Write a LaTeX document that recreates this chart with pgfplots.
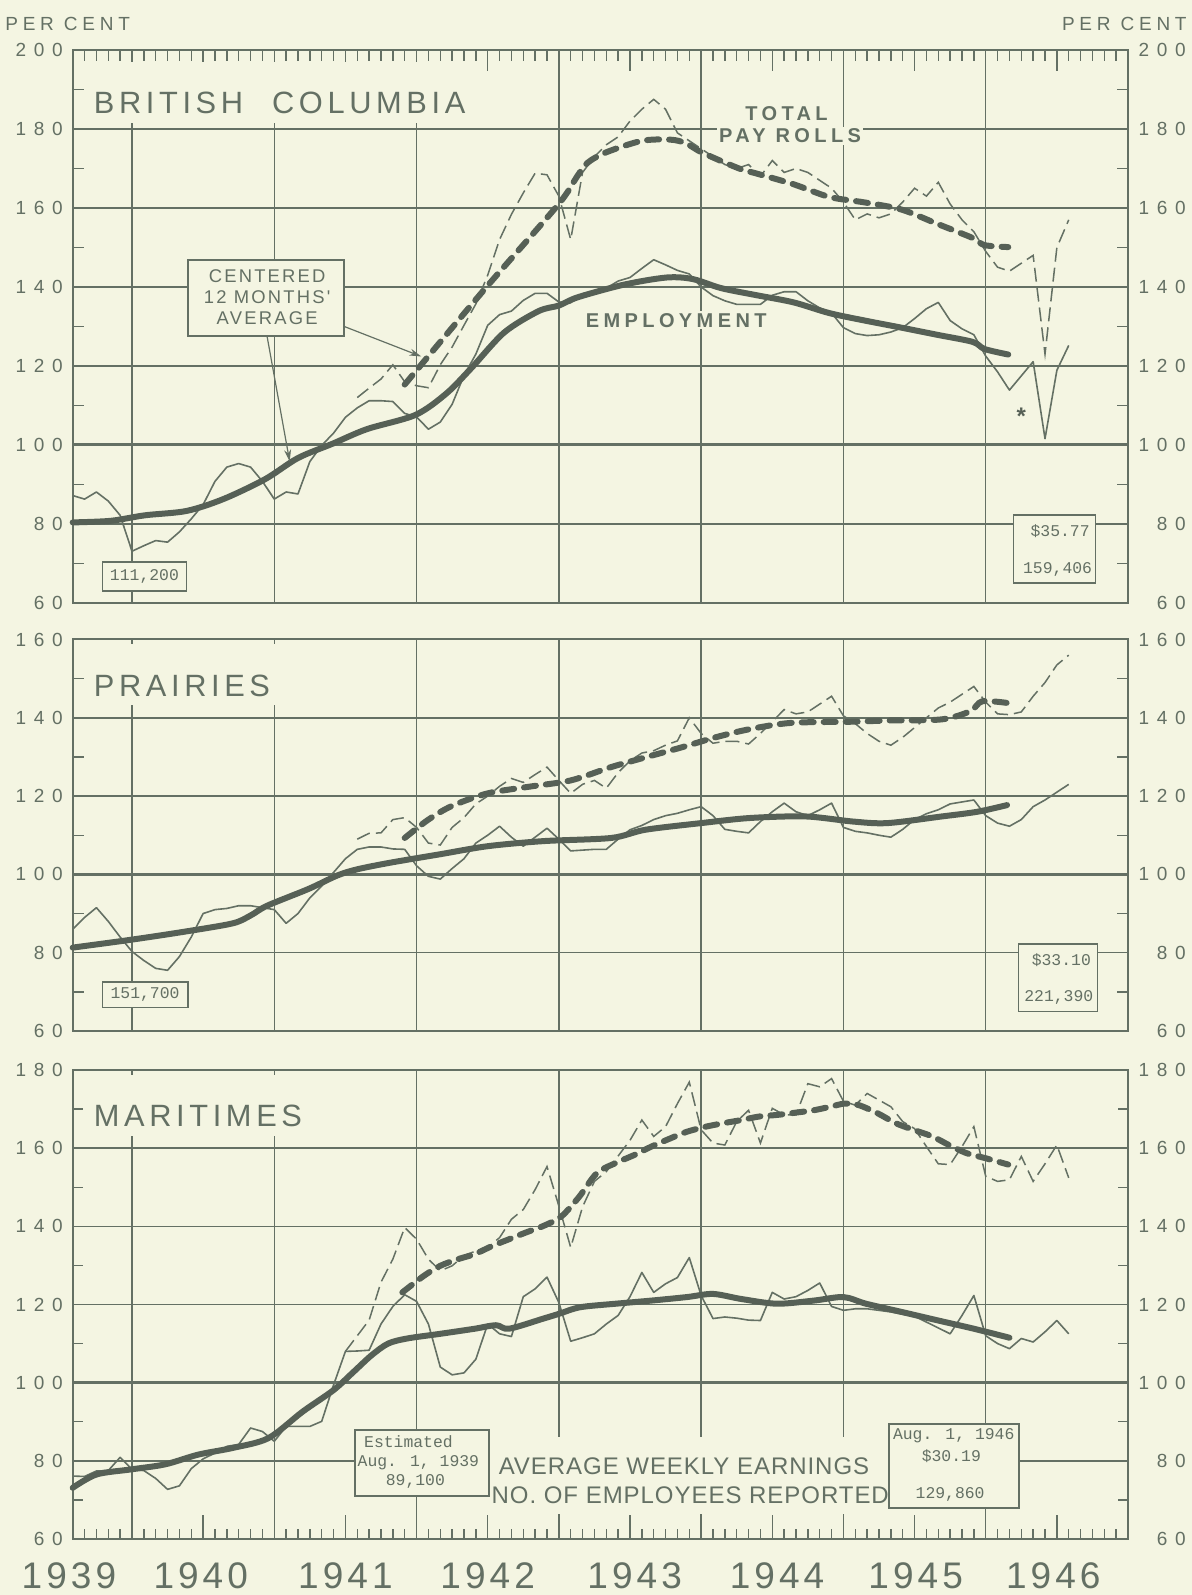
\documentclass[border=0pt]{standalone}
\usepackage{fontspec}
\setmainfont{Liberation Sans}
\newfontfamily\tickfont[LetterSpace=40]{Liberation Sans}
\newfontfamily\pcfont[LetterSpace=25]{Liberation Sans}
\newfontfamily\titlefont[LetterSpace=15]{Liberation Sans}
\newfontfamily\boldlab[LetterSpace=22]{Liberation Sans}
\newfontfamily\cenfont[LetterSpace=12]{Liberation Sans}
\newfontfamily\avgfont[LetterSpace=4]{Liberation Sans}
\newfontfamily\yearfont[LetterSpace=11]{Liberation Sans}
\newfontfamily\typefont{Liberation Mono}
\usepackage{pgfplots}
\pgfplotsset{compat=1.18}
\usetikzlibrary{arrows.meta}

\definecolor{bg}{RGB}{244,245,226}
\definecolor{ink}{RGB}{100,112,100}
\definecolor{dk}{RGB}{86,96,86}

\newcommand\tickfnt{\tickfont\fontsize{9.5}{11}\selectfont}
\newcommand\titlefnt{\titlefont\fontsize{15.4}{18}\selectfont}
\newcommand\typefnt{\typefont\fontsize{8.2}{9.8}\selectfont}

\pgfplotsset{
  panel/.style={
    scale only axis, width=527.65pt, xmin=0, xmax=89, clip=false,
    axis line style={ink, line width=1pt},
    grid style={ink, line width=0.75pt},
    xmajorgrids, ymajorgrids,
    xtick={5,17,29,41,53,65,77}, xticklabels={},
    major tick length=0pt, minor tick length=5.5pt,
    tick align=inside,
    tick style={ink, line width=0.7pt},
    ytick pos=both,
    yticklabel style={font=\tickfnt, text=ink, anchor=east, inner sep=0pt, xshift=-4.85pt},
    /pgf/number format/assume math mode=true,
    extra y ticks={100}, extra y tick labels={},
    extra y tick style={grid style={ink, line width=1.5pt}},
  },
  thinl/.style={ink, line width=0.8pt, no marks, line join=round},
  thickl/.style={dk, line width=3pt, no marks, smooth, line join=round, line cap=round},
  thind/.style={ink, line width=0.75pt, no marks, dash pattern=on 7pt off 3pt},
  thickd/.style={dk, line width=3pt, no marks, smooth, dash pattern=on 6pt off 5pt, line cap=round},
}
\tikzset{
  rlab/.style={anchor=east, font=\tickfnt, text=ink, inner sep=0pt, xshift=29pt},
  ttl/.style={anchor=base west, fill=bg, inner xsep=3pt, inner ysep=4.5pt, text height=21.5pt, text depth=0pt, text=ink, font=\titlefnt},
  bx/.style={draw=ink, fill=bg, line width=0.8pt, inner sep=0pt},
  tt/.style={font=\typefnt, text=ink, inner sep=0pt},
  blab/.style={font=\boldlab\fontsize{10}{12}\selectfont\bfseries, text=ink, fill=bg, inner sep=1pt},
}

\begin{document}
\begin{tikzpicture}[x=1pt,y=1pt]
\fill[bg] (0,0) rectangle (596,797.5);
\useasboundingbox (0,0) rectangle (596,797.5);

% ================= BRITISH COLUMBIA =================
\begin{axis}[panel, at={(36.35pt,496pt)}, anchor=south west, height=276.5pt,
  ymin=60, ymax=200, ytick={60,80,...,200}, minor ytick={70,90,...,190},
  minor xtick={1,...,88}, xtick pos=right,
  extra x ticks={11,23,35,47,59,71,83}, extra x tick labels={},
  extra x tick style={xmajorgrids=false, major tick length=10.5pt}]
\node[ttl] at (axis cs:1.25,183.8) {BRITISH\hspace{14.5pt}COLUMBIA};
\node[blab] at (axis cs:60.2,184) {TOTAL};
\node[blab] at (axis cs:60.5,178.2) {PAY ROLLS};
\node[blab] at (axis cs:50.9,131.6) {EMPLOYMENT};
\node[bx, minimum width=78pt, minimum height=38pt] at (axis cs:16.3,137.2) {};
\node[align=center, text=ink, font=\cenfont\fontsize{9.2}{10.7}\selectfont] at (axis cs:16.4,137.4) {CENTERED\\12 MONTHS'\\AVERAGE};
\node[bx, minimum width=42pt, minimum height=14.4pt] at (axis cs:6.05,66.75) {};
\node[tt] at (axis cs:6.05,66.75) {111,200};
\node[bx, minimum width=41pt, minimum height=34pt] at (axis cs:82.8,73.6) {};
\node[tt, anchor=east] at (axis cs:85.8,78.1) {\$35.77};
\node[tt, anchor=east] at (axis cs:86.0,68.6) {159,406};

\addplot[thinl] coordinates {(0,87.2)(1,86.3)(2,88.1)(3,85.8)(4,82.2)(5,73.1)(6,74.5)(7,75.8)(8,75.4)(9,78)(10,81.3)(11,84.9)(12,90.8)(13,94.4)(14,95.3)(15,94.4)(16,90.8)(17,86.3)(18,88.1)(19,87.6)(20,95.8)(21,99.9)(22,103)(23,107)(24,109.4)(25,111.2)(26,111.2)(27,111)(28,108)(29,107.1)(30,104)(31,105.8)(32,110.3)(33,117.6)(34,123)(35,130.3)(36,133)(37,133.9)(38,136.6)(39,138.4)(40,138.4)(41,136.2)(42,136)(43,138.3)(44,138.8)(45,139.7)(46,141.5)(47,142.4)(48,144.7)(49,146.9)(50,145.6)(51,144.2)(52,143.3)(53,140)(54,137.8)(55,136.5)(56,135.6)(57,135.6)(58,135.6)(59,137.9)(60,138.8)(61,138.8)(62,136.5)(63,134.7)(64,133.4)(65,129.7)(66,128.2)(67,127.7)(68,127.9)(69,128.6)(70,129.7)(71,132)(72,134.5)(73,136.1)(74,131.5)(75,129.4)(76,127.9)(77,122.5)(78,118.5)(79,113.9)(80,117.5)(81,121.1)(82,101.6)(83,118.9)(84,125.2)};
\addplot[thickl] coordinates {(0,80.4)(3.2,80.8)(6.1,82.2)(9.6,83.3)(12.7,86.3)(16.2,91.3)(19,96.7)(21.9,100.3)(24.8,104)(28.9,107.6)(31.5,113)(33.6,119.4)(36.4,128.5)(39.3,133.9)(41,135.3)(42.6,137.4)(46.5,140.6)(50.1,142.4)(52.3,142)(54.7,139.7)(57.7,137.9)(60.8,136.1)(63.8,133.4)(66.8,131.5)(69.9,129.7)(72.9,127.9)(75.9,126.1)(76.9,124.3)(78.9,122.9)};
\addplot[thind] coordinates {(24,112)(25,114.4)(26,116.7)(27,120.3)(28,116)(29,115)(30,114.5)(31,120.3)(32,124.8)(33,130.3)(34,135.7)(35,143)(36,152)(37,158.4)(38,163.8)(39,168.8)(40,168.4)(41,163)(42,152)(43,169)(44,173)(45,176)(46,178)(47,182)(48,185)(49,187.5)(50,185)(51,179)(52,177)(53,175)(54,173)(55,171)(56,170)(57,171)(58,168)(59,172)(60,169)(61,170)(62,169)(63,167)(64,165)(65,161.5)(66,157)(67,158.5)(68,157.5)(69,158.5)(70,161.5)(71,165)(72,163)(73,166.5)(74,161)(75,157)(76,154)(77,149)(78,145)(79,144)(80,146)(81,148)(82,123)(83,150)(84,157)};
\addplot[thickd] coordinates {(28,115.3)(34.7,139.3)(40.9,160.7)(42.5,167.8)(43.4,171.4)(45,174.1)(48,177)(50.4,177.3)(51.7,176.4)(53.1,174)(56.2,170)(57.7,168.7)(60.8,166)(63.8,162.8)(66.8,161.4)(69.9,159.6)(72.9,156)(75.9,152.4)(76.9,150.6)(78.9,150.1)};

\draw[ink, line width=0.6pt, -{Stealth[length=6pt,width=3.5pt]}] (axis cs:16.4,127.4) -- (axis cs:18.3,95.8);
\draw[ink, line width=0.6pt, -{Stealth[length=6pt,width=3.5pt]}] (axis cs:22.9,130) -- (axis cs:29.4,122.4);
\node[text=dk, font=\fontsize{12}{12}\selectfont\bfseries] at (axis cs:80,107.2) {*};
\pgfplotsinvokeforeach{60,80,...,200}{\node[rlab] at (axis cs:89,#1) {#1};}
\end{axis}

% ================= PRAIRIES =================
\begin{axis}[panel, at={(36.35pt,282pt)}, anchor=south west, height=195.75pt,
  ymin=60, ymax=160, ytick={60,80,...,160}, minor ytick={70,90,...,150}]
\node[ttl] at (axis cs:1.25,145.5) {PRAIRIES};
\node[bx, minimum width=42.7pt, minimum height=12.7pt] at (axis cs:6.1,69.25) {};
\node[tt] at (axis cs:6.1,69.25) {151,700};
\node[bx, minimum width=39.5pt, minimum height=33.7pt] at (axis cs:83.1,73.6) {};
\node[tt, anchor=east] at (axis cs:85.9,78) {\$33.10};
\node[tt, anchor=east] at (axis cs:86.1,68.5) {221,390};

\addplot[thinl] coordinates {(0,86)(1,89)(2,91.5)(3,88)(4,84)(5,80.3)(6,78)(7,76)(8,75.5)(9,79)(10,84)(11,90)(12,91)(13,91.3)(14,92)(15,92)(16,91.5)(17,91)(18,87.5)(19,90)(20,94)(21,97)(22,100.5)(23,104)(24,106.4)(25,107)(26,107)(27,106.5)(28,106.4)(29,102.2)(30,99.5)(31,98.8)(32,101.5)(33,104)(34,108)(35,110)(36,112.3)(37,109.5)(38,107.2)(39,109.5)(40,111.8)(41,109)(42,106)(43,106.2)(44,106.4)(45,106.4)(46,109)(47,111.4)(48,112.5)(49,114)(50,115)(51,115.6)(52,116.5)(53,117.3)(54,115)(55,111.5)(56,111)(57,110.6)(58,113.5)(59,116)(60,118.2)(61,116)(62,115)(63,116.5)(64,118.2)(65,112)(66,111)(67,110.6)(68,110)(69,109.5)(70,111.5)(71,114)(72,115.5)(73,116.5)(74,118)(75,118.5)(76,119)(77,115)(78,113.1)(79,112.3)(80,114)(81,117.3)(82,119)(83,121)(84,123)};
\addplot[thickl] coordinates {(0,81.3)(4.9,83.3)(9.5,85.4)(13.5,87.5)(15,89.5)(16.4,92)(19.9,96.3)(22.3,99.7)(24,101.3)(26.8,103)(30.9,105.1)(35,107.2)(39.7,108.5)(45.4,109.3)(48.3,111.4)(53,113.1)(57.1,114.4)(61.8,114.8)(65.8,113.5)(68.7,113.1)(73.3,114.8)(76.3,116)(78.8,117.7)};
\addplot[thind] coordinates {(24,109)(25,110.5)(26,110.6)(27,114)(28,114.5)(29,112)(30,108)(31,107.5)(32,112)(33,114.5)(34,118)(35,120)(36,122.5)(37,124.5)(38,123.5)(39,125.5)(40,127.4)(41,124)(42,120.7)(43,123)(44,124)(45,122)(46,126)(47,129)(48,131)(49,131.6)(50,133)(51,134.1)(52,140)(53,136)(54,133.5)(55,134)(56,134)(57,133.3)(58,136)(59,139)(60,142.1)(61,141)(62,141.5)(63,143.5)(64,145.5)(65,140.5)(66,138.5)(67,136)(68,134)(69,133)(70,135)(71,137.5)(72,140)(73,142.5)(74,144)(75,146)(76,148)(77,144)(78,141)(79,140.8)(80,141.5)(81,145.5)(82,149)(83,153.5)(84,156)};
\addplot[thickd] coordinates {(28,109.3)(30,114)(32,117.5)(35,120.7)(38.5,122.4)(42,124)(45.4,127.4)(48.3,129.9)(51.3,132.4)(54.2,135)(57.1,137.1)(60.6,138.7)(65.8,139)(68.7,139.3)(73.3,139.6)(75.7,141.7)(76.7,144.2)(78.8,143.8)};
\pgfplotsinvokeforeach{60,80,...,160}{\node[rlab] at (axis cs:89,#1) {#1};}
\end{axis}

% ================= MARITIMES =================
\begin{axis}[panel, at={(36.35pt,28pt)}, anchor=south west, height=234.5pt,
  ymin=60, ymax=180, ytick={60,80,...,180}, minor ytick={70,90,...,170},
  minor xtick={1,...,88}, xtick pos=left, minor tick length=5pt,
  extra x ticks={11,23,35,47,59,71,83}, extra x tick labels={},
  extra x tick style={xmajorgrids=false, major tick length=12pt}]
\node[ttl] at (axis cs:1.25,165.5) {MARITIMES};
\fill[bg] (axis cs:35.2,66.5) rectangle (axis cs:68.8,86);
\node[anchor=west, text=ink, inner sep=0pt, font=\avgfont\fontsize{12}{14}\selectfont] at (axis cs:35.9,78.6) {AVERAGE WEEKLY EARNINGS};
\node[anchor=west, text=ink, inner sep=0pt, font=\avgfont\fontsize{12}{14}\selectfont] at (axis cs:35.3,71.1) {NO. OF EMPLOYEES REPORTED};
\node[bx, minimum width=67pt, minimum height=33pt] at (axis cs:29.45,79.5) {};
\node[tt, anchor=west] at (axis cs:24.55,84.8) {Estimated};
\node[tt, anchor=west] at (axis cs:24.0,79.6) {Aug. 1, 1939};
\node[tt] at (axis cs:28.9,74.6) {89,100};
\node[bx, minimum width=65pt, minimum height=42pt] at (axis cs:74.3,78.7) {};
\node[tt] at (axis cs:74.3,86.3) {Aug. 1, 1946};
\node[tt] at (axis cs:74.1,81.2) {\$30.19};
\node[tt] at (axis cs:74.0,71.4) {129,860};

\addplot[thinl] coordinates {(0,76.1)(1,76)(2,77.4)(3,77.5)(4,80.9)(5,77.8)(6,77.5)(7,75.5)(8,72.7)(9,73.6)(10,78)(11,80.5)(12,82)(13,83.7)(14,84.2)(15,88.4)(16,87.5)(17,85)(18,88.8)(19,88.8)(20,88.8)(21,90.1)(22,99.4)(23,108)(24,108.1)(25,108.3)(26,115)(27,119.5)(28,122.5)(29,120.8)(30,115)(31,104)(32,102)(33,102.5)(34,106)(35,115)(36,112.5)(37,111.8)(38,122)(39,124)(40,127)(41,120.5)(42,110.6)(43,111.5)(44,112.5)(45,115)(46,117.2)(47,122)(48,128.2)(49,123.1)(50,125.3)(51,126.9)(52,132)(53,122.3)(54,116.4)(55,116.8)(56,116.5)(57,116)(58,115.9)(59,123.1)(60,121.4)(61,122)(62,123.6)(63,125.5)(64,119.5)(65,118.5)(66,118.9)(67,118.9)(68,118.5)(69,118.1)(70,117.5)(71,117)(72,115.5)(73,114)(74,112.5)(75,117.2)(76,122.3)(77,112)(78,110)(79,108.7)(80,111.3)(81,110.4)(82,113)(83,115.9)(84,112.5)};
\addplot[thickl] coordinates {(0,73.1)(2,76.5)(4.9,77.8)(7.8,79.1)(10.6,81.6)(13.5,83.3)(16.5,85.8)(19.4,92.6)(22,98.1)(23.7,102.8)(25.2,107)(26.6,110)(28.2,111.3)(31,112.5)(33.9,113.8)(35.7,114.7)(36.8,113.8)(39.7,116.4)(41,117.6)(42.8,119.3)(45.8,120.2)(48.8,121)(51.8,121.9)(54,122.7)(56.4,121.4)(59.4,120.2)(62.5,121)(65,121.9)(66.9,120.2)(69.9,118.1)(73,115.9)(76,113.8)(79,111.5)};
\addplot[thind] coordinates {(23,108)(24,112)(25,116)(26,125.7)(27,131.6)(28,139.7)(29,136.7)(30,131.6)(31,128.6)(32,129.9)(33,132.5)(34,133.7)(35,134.6)(36,137.1)(37,141.8)(38,144.3)(39,149.4)(40,155.3)(41,145.2)(42,134.6)(43,145)(44,151.5)(45,154)(46,158)(47,162)(48,167.2)(49,163)(50,165.5)(51,171.4)(52,176.9)(53,164.7)(54,161.3)(55,160.8)(56,166.8)(57,169.7)(58,161.3)(59,170.2)(60,168.5)(61,168.5)(62,176.5)(63,175.7)(64,177.8)(65,172)(66,171)(67,174)(68,172.3)(69,170.6)(70,166.8)(71,165)(72,160.4)(73,156)(74,155.8)(75,160.4)(76,165.5)(77,152.8)(78,151.5)(79,151.9)(80,157.9)(81,151.5)(82,156)(83,160.8)(84,152.4)};
\addplot[thickd] coordinates {(27.8,123.1)(29.6,127.3)(31,129.9)(32.5,131.6)(33.9,132.9)(35.4,135)(36.8,136.7)(38.2,138.4)(39.7,140.1)(41.2,142.5)(42.7,147.5)(44.2,153.6)(45.8,156.2)(47.4,158.3)(48.8,160.4)(50.4,162.5)(51.8,164.2)(53.4,165.5)(54.9,166.4)(56.4,167.2)(57.9,168.1)(59.4,168.5)(61,169.1)(62.5,169.7)(63.9,170.6)(65.1,171.4)(66.3,171)(67.9,168.9)(69.4,166.4)(70.9,164.7)(72.5,163)(73.9,160.8)(75.4,158.7)(76.9,157.5)(78.9,155.8)};
\pgfplotsinvokeforeach{60,80,...,180}{\node[rlab] at (axis cs:89,#1) {#1};}
\end{axis}

% year labels
\foreach \xx/\yr in {34.5/1939,100.38/1940,172.71/1941,243.85/1942,317.37/1943,388.51/1944,457.87/1945,526.65/1946}{
  \node[text=ink, inner sep=0pt, font=\yearfont\fontsize{18.5}{20}\selectfont] at (\xx,9.6) {\yr};
}
\node[anchor=west, text=ink, inner sep=0pt, font=\pcfont\fontsize{9.5}{11}\selectfont] at (2.5,785.5) {PER CENT};
\node[anchor=east, text=ink, inner sep=0pt, font=\pcfont\fontsize{9.5}{11}\selectfont] at (593.5,785.5) {PER CENT};
\end{tikzpicture}
\end{document}
